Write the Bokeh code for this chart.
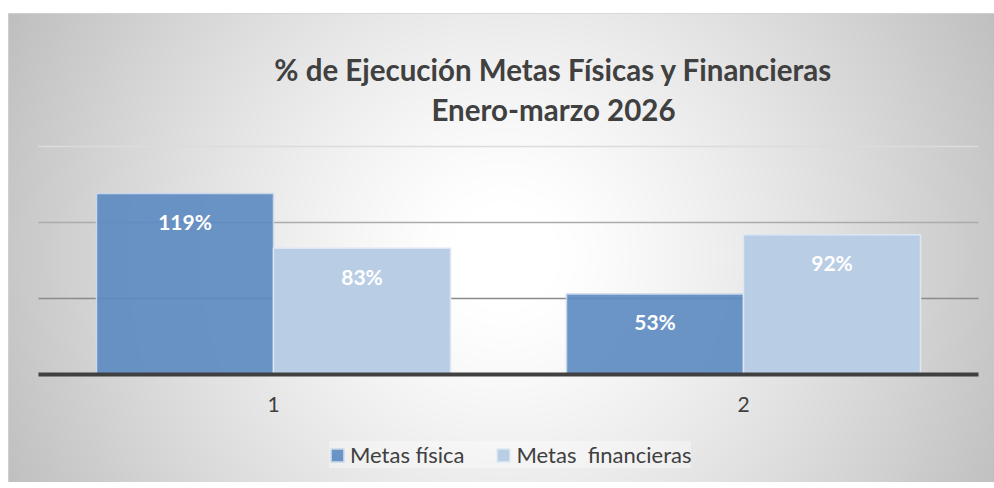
import numpy as np
from bokeh.plotting import figure
from bokeh.models import Range1d, LinearAxis, FixedTicker, Legend, LegendItem, Label
from bokeh.core.properties import value
from bokeh.embed import file_html
from bokeh.resources import INLINE

# ---------------- data ----------------
categories = ["1", "2"]
metas_fisica = [119, 53]
metas_financieras = [83, 92]
series_names = ["Metas física", "Metas  financieras"]
grid_values = [50, 100, 150]
title_lines = ["% de Ejecución Metas Físicas y Financieras", "Enero-marzo 2026"]

# ---------------- geometry (page pixels) ----------------
W, H = 994, 482
LEFT, TOP = 8, 13
FW, FH = W - LEFT, H - TOP
PAGE_L, PAGE_T = LEFT, TOP
PAGE_R, PAGE_B = W, H

PX_X = 470.0          # px per category
X0_PAGE = 38.0        # page x of category axis start
PX_Y = 76.0 / 50.0    # px per percent
BASE_PAGE = 374.0     # page y of zero line

x_start = (PAGE_L - X0_PAGE) / PX_X
x_end = (PAGE_R - X0_PAGE) / PX_X
y_end = (BASE_PAGE - PAGE_T) / PX_Y
y_start = (BASE_PAGE - PAGE_B) / PX_Y


def page_to_data(px, py):
    return (px - X0_PAGE) / PX_X, (BASE_PAGE - py) / PX_Y


p = figure(width=W, height=H, output_backend="svg", toolbar_location=None,
           x_range=Range1d(x_start, x_end), y_range=Range1d(y_start, y_end),
           x_axis_type=None, y_axis_type=None,
           min_border_left=LEFT, min_border_right=0, min_border_top=TOP, min_border_bottom=0)
p.border_fill_color = "white"
p.outline_line_color = "#d4d4d4"
p.outline_line_width = 1

# ---------------- radial gradient background ----------------
cx, cy = 504.0, 256.0
R = np.hypot(cx - PAGE_L, cy - PAGE_T)
xs = PAGE_L + np.arange(FW) + 0.5
ys = PAGE_B - np.arange(FH) - 0.5
X, Y = np.meshgrid(xs, ys)
d = np.hypot(X - cx, Y - cy) / R
t = np.clip((d - 0.1) / 0.9, 0, 1) ** 1.2
v = (255 - 64 * t).astype(np.uint8)
img = np.empty((FH, FW), dtype=np.uint32)
view = img.view(dtype=np.uint8).reshape((FH, FW, 4))
view[..., 0] = v
view[..., 1] = v
view[..., 2] = v
view[..., 3] = 255
p.image_rgba(image=[img], x=x_start, y=y_start, dw=x_end - x_start, dh=y_end - y_start)

# ---------------- gridlines ----------------
grid_colors = ["#8a8a8a", "#ababab", "#dcdcdc"]
n = len(categories)
p.segment(x0=[0] * len(grid_values), x1=[n] * len(grid_values),
          y0=grid_values, y1=grid_values, line_color=grid_colors, line_width=1.6)

# ---------------- bars ----------------
bw = 177.0 / PX_X
centers = [i + 0.5 for i in range(n)]
x1 = [c - bw / 2 for c in centers]
x2 = [c + bw / 2 for c in centers]

r1 = p.vbar(x=x1, top=metas_fisica, bottom=0, width=bw,
            fill_color="#5b88c1", fill_alpha=0.9,
            line_color="#c9d7ea", line_width=1.5)
r2 = p.vbar(x=x2, top=metas_financieras, bottom=0, width=bw,
            fill_color="#b9cde5", fill_alpha=1.0,
            line_color="#dde7f3", line_width=1.5)

# data labels
p.text(x=x1 + x2, y=metas_fisica + metas_financieras,
       text=[f"{v}%" for v in metas_fisica + metas_financieras],
       y_offset=28, text_align="center", text_baseline="middle",
       text_font=value("Lato"), text_font_style="bold", text_font_size="21px",
       text_color="white")

# ---------------- category axis at zero ----------------
tick_pos = centers
xaxis = LinearAxis(fixed_location=0, bounds=(0, n),
                   ticker=FixedTicker(ticks=tick_pos),
                   major_label_overrides={tp: c for tp, c in zip(tick_pos, categories)},
                   axis_line_color="#404040", axis_line_width=4,
                   major_tick_line_color=None, minor_tick_line_color=None,
                   major_tick_out=0, major_tick_in=0,
                   major_label_text_font="Lato", major_label_text_font_size="21px",
                   major_label_text_color="#404040", major_label_standoff=22)
p.add_layout(xaxis, "below")

# ---------------- title ----------------
for line, py in zip(title_lines, [68.5, 109]):
    tx, ty = page_to_data(553, py)
    p.add_layout(Label(x=tx, y=ty, text=line, text_align="center", text_baseline="middle",
                       text_font="Lato", text_font_style="bold", text_font_size="29.5px",
                       text_color="#404040"))

# ---------------- legend ----------------
legend = Legend(items=[LegendItem(label=series_names[0], renderers=[r1]),
                       LegendItem(label=series_names[1], renderers=[r2])],
                orientation="horizontal", location=(329 - LEFT, 488 - H + 8),
                background_fill_color="white", background_fill_alpha=0.35,
                border_line_color=None, padding=9, margin=0, spacing=31,
                label_standoff=5, glyph_width=16, glyph_height=16,
                label_text_font="Lato", label_text_font_size="22px",
                label_text_color="#404040")
p.add_layout(legend, "center")

open("out.html", "w").write(file_html(p, INLINE))
